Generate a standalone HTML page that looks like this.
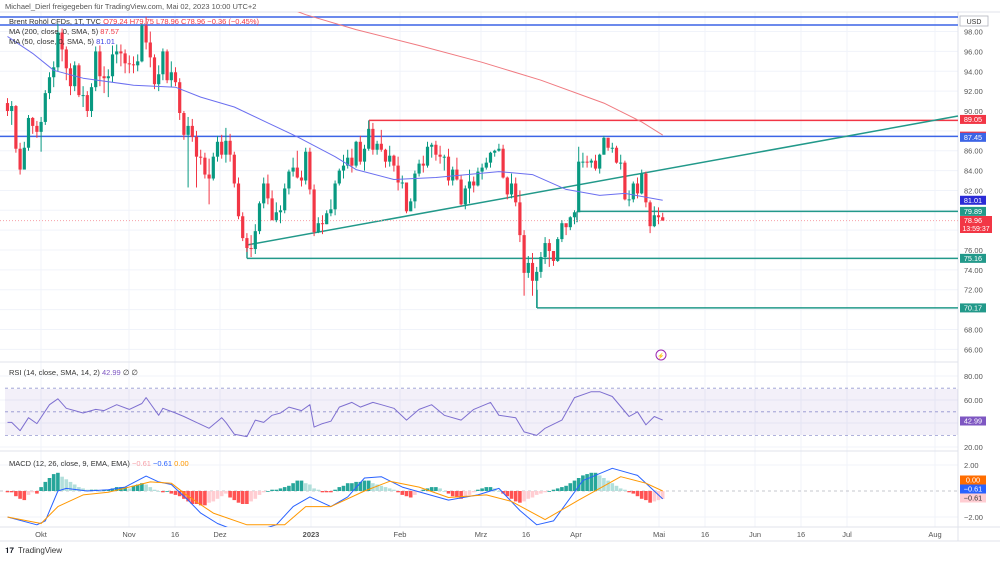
<!DOCTYPE html>
<html><head><meta charset="utf-8"><style>
body{margin:0;background:#fff;width:1000px;height:560px;overflow:hidden;font-family:"Liberation Sans",sans-serif}
svg text{font-family:"Liberation Sans",sans-serif}
</style></head><body>
<svg id="c" width="1000" height="560" viewBox="0 0 1000 560" xmlns="http://www.w3.org/2000/svg">
<g id="grid"></g>
<rect x="5" y="389" width="953" height="46" fill="#7e57c2" fill-opacity="0.09"/>
<g id="levels"></g>
<g id="candles"></g>
<g id="ind"></g>
<g id="axis"></g>
</svg>
<script>
const closes=[90.0,90.5,86.2,84.1,86.3,89.3,88.5,87.9,
88.9,91.8,93.4,94.4,97.9,96.2,94.3,92.5,94.6,91.6,91.6,90.0,92.4,96.0,93.5,93.3,93.5,95.7,96.0,95.8,94.8,
94.7,94.6,95.0,98.6,96.9,95.4,92.7,93.7,96.0,93.1,93.9,92.9,89.8,87.6,88.5,87.4,85.4,85.3,83.6,83.2,85.4,86.9,
85.6,87.0,85.6,82.7,79.4,77.2,76.2,76.1,77.9,80.7,82.7,81.2,79.0,79.8,80.0,82.2,83.9,84.3,83.3,83.0,85.9,
82.1,77.8,78.7,78.6,79.7,80.1,82.7,84.0,84.5,85.3,84.5,86.9,84.9,86.2,88.2,86.1,86.7,86.1,84.9,85.5,84.5,
82.8,82.8,79.9,80.9,83.7,84.7,84.5,86.4,86.6,85.6,85.4,85.4,83.0,84.1,83.1,80.6,82.2,82.9,82.5,83.9,
84.3,84.8,85.8,86.0,86.2,83.3,81.6,82.7,80.8,77.5,73.7,74.7,72.9,73.8,75.3,76.7,75.9,74.9,77.1,78.7,78.3,79.3,79.8,
84.9,84.9,84.8,85.0,84.2,85.6,87.3,86.3,86.3,84.8,84.8,81.1,81.1,82.7,81.7,83.7,80.8,78.4,79.5,
79.3,78.96];
const highs=[91.3,91.0,90.6,86.8,86.9,89.6,89.4,89.0,
89.4,92.1,93.9,95.0,98.8,98.3,96.5,94.8,95.0,94.8,92.5,92.0,92.8,96.5,96.6,94.5,94.2,96.6,96.7,96.7,96.2,
95.6,95.5,95.7,98.8,99.5,98.0,95.7,94.6,96.3,96.2,95.0,94.4,93.3,90.0,89.4,89.2,88.0,86.1,85.8,85.2,85.8,87.5,
87.6,88.3,87.7,85.9,83.3,79.8,77.7,77.5,78.6,80.9,83.3,83.6,82.0,80.8,80.5,82.7,84.1,85.3,86.0,84.0,86.3,
86.3,82.6,79.3,79.5,80.0,81.1,83.0,84.2,85.6,86.1,86.2,87.0,87.5,86.6,89.05,88.8,87.0,88.1,86.2,86.5,85.6,
85.4,83.5,82.8,81.2,84.0,85.1,85.5,86.9,86.8,87.0,86.5,85.6,86.2,84.4,85.3,83.5,82.5,84.1,83.4,84.3,
84.7,85.3,85.9,86.1,86.7,86.6,83.4,83.7,83.3,82.0,78.0,75.4,75.7,74.3,75.8,77.3,77.1,75.8,77.3,79.0,78.6,79.4,80.0,
86.4,85.8,85.5,85.2,85.6,85.7,87.5,87.3,86.8,86.5,85.6,85.0,82.0,82.9,83.3,84.1,83.9,81.0,80.4,
80.3,79.75];
const lows=[89.5,88.6,85.8,83.6,84.2,86.0,87.7,87.3,
85.9,88.6,91.2,92.4,94.0,95.0,93.1,91.6,92.0,91.4,90.4,89.4,89.4,92.0,92.5,91.8,91.4,92.9,94.8,94.5,93.8,
93.8,93.8,94.0,94.9,96.2,94.4,92.2,92.0,93.1,92.8,92.4,92.5,89.1,87.1,82.3,86.9,82.3,84.6,83.2,80.6,83.0,84.9,
85.2,84.8,84.9,82.3,79.1,76.9,75.8,75.3,75.6,77.6,80.2,80.6,79.0,78.8,78.7,79.7,81.6,83.4,83.2,82.4,82.6,
81.6,77.4,77.7,77.6,78.6,79.4,79.5,82.5,83.2,84.2,83.8,84.3,84.6,84.0,86.0,85.6,85.6,85.9,84.3,84.4,83.9,
82.0,82.2,79.7,79.9,80.2,83.4,83.8,84.3,85.3,85.0,84.7,84.0,82.5,82.5,83.0,80.5,80.1,80.7,81.8,82.4,
83.1,84.1,84.3,85.4,85.9,83.2,81.1,81.2,80.4,76.8,71.4,73.2,71.4,70.17,73.2,74.6,74.3,74.4,74.8,76.8,77.5,78.0,78.6,
84.0,84.3,84.3,84.3,84.0,83.7,85.6,86.0,85.8,84.7,84.1,81.0,80.4,80.8,81.2,81.6,80.3,77.7,78.3,
78.6,78.96];
const firstOpen=90.8;
const ma50Idx=[0,6,11,18,30,40,46,54,62,69,78,83,92,102,117,125,133,141,147,156];
const ma50Vals=[97.5,95.8,94.1,93.3,92.6,92.4,91.4,90.4,88.8,87.4,85.4,84.1,83.1,83.3,83.9,83.6,82.1,81.5,81.7,81.01];
const ma200Idx=[66,71,83,98,113,127,142,151,156];
const ma200Vals=[100.5,99.7,98.2,96.6,94.9,93.1,90.8,88.9,87.57];
const rsiIdx=[0,1,3,5,7,10,12,14,16,18,21,23,26,29,32,33,34,36,37,40,42,45,48,51,52,54,57,59,61,63,65,67,70,72,73,75,77,79,82,84,87,89,92,95,98,101,104,108,111,115,117,121,123,126,128,132,135,139,141,144,148,150,152,154,156];
const rsiVals=[41,41,34,45,40,56,61,53,51,49,52,51,56,52,57,62,57,47,53,49,46,41,36,45,41,31,29,43,41,47,49,54,51,56,37,40,42,54,58,54,58,56,53,43,52,56,47,43,52,58,47,45,33,30,36,43,62,67,67,63,46,50,39,46,42.99];
const hist=[-0.1,-0.1,-0.4,-0.6,-0.7,-0.3,-0.1,-0.2,0.3,0.7,1.0,1.3,1.4,1.1,0.9,0.7,0.5,0.3,0.2,0.1,0.1,0.1,0.0,0.1,0.1,0.2,0.3,0.3,0.3,0.2,0.4,0.5,0.6,0.5,0.3,0.1,0.0,-0.1,0.0,-0.2,-0.3,-0.4,-0.6,-0.8,-1.0,-1.0,-1.1,-1.1,-0.9,-0.8,-0.6,-0.4,-0.2,-0.5,-0.7,-0.9,-1.0,-1.0,-0.8,-0.6,-0.3,-0.1,0.0,0.1,0.1,0.2,0.3,0.4,0.6,0.8,0.8,0.6,0.5,0.2,0.1,-0.1,-0.1,-0.1,0.1,0.3,0.4,0.6,0.6,0.7,0.7,0.8,0.8,0.6,0.5,0.4,0.3,0.2,0.1,-0.1,-0.3,-0.4,-0.5,-0.3,-0.1,0.1,0.2,0.3,0.3,0.2,0.0,-0.2,-0.4,-0.5,-0.6,-0.5,-0.3,-0.1,0.1,0.2,0.3,0.3,0.2,0.0,-0.2,-0.4,-0.6,-0.8,-0.9,-0.8,-0.6,-0.5,-0.3,-0.2,-0.1,0.0,0.1,0.2,0.3,0.4,0.6,0.8,1.0,1.2,1.3,1.4,1.4,1.2,1.0,0.8,0.6,0.4,0.2,0.1,-0.1,-0.2,-0.4,-0.6,-0.7,-0.9,-0.8,-0.7,-0.61];
const macdIdx=[0,7,9,12,14,19,24,28,33,36,39,43,46,50,54,58,64,68,72,77,81,85,89,94,105,112,117,122,126,130,137,144,150,156];
const macdVals=[-2.0,-2.6,-2.3,0.0,0.2,0.0,0.1,0.3,1.15,0.7,0.5,-0.7,-1.7,-2.5,-3.0,-3.2,-2.6,-1.2,-0.45,-1.2,-0.45,1.0,1.1,0.3,-0.7,-0.3,0.2,-1.5,-2.6,-2.3,0.8,1.75,1.2,-0.61];
const sigIdx=[0,8,12,18,24,34,39,43,49,57,66,71,77,85,91,98,105,114,120,128,136,146,152,156];
const sigVals=[-2.0,-2.5,-1.2,-0.3,-0.1,0.7,0.6,-0.4,-1.7,-2.6,-2.6,-1.2,-1.2,0.0,0.75,0.3,-0.5,-0.3,-0.8,-2.2,-0.7,1.1,0.6,0.0];
const priceTicks=[98,96,94,92,90,86,84,82,76,74,72,68,66];
const timeLabels=["Okt","Nov","16","Dez","2023","Feb","Mrz","16","Apr","Mai","16","Jun","16","Jul","Aug"];
const timeX=[41,129,175,220,311,400,481,526,576,659,705,755,801,847,935];

const NS="http://www.w3.org/2000/svg";
const xOf=i=>7.5+i*4.2;
const yP=p=>111+(90-p)*9.93;
const yR=v=>400+(60-v)*1.18;
const yM=v=>491-v*13;
function el(tag,attrs,parent,txt){const e=document.createElementNS(NS,tag);for(const k in attrs)e.setAttribute(k,attrs[k]);if(txt!==undefined)e.textContent=txt;parent.appendChild(e);return e;}
const G=document.getElementById('grid'),L=document.getElementById('levels'),C=document.getElementById('candles'),I=document.getElementById('ind'),A=document.getElementById('axis');

// grid
for(const x of timeX){const g=el('line',{x1:x,x2:x,y1:12,y2:527,stroke:'#f0f3fa','stroke-width':1},G);

}
for(let p=66;p<=98;p+=2){const g=el('line',{x1:0,x2:958,y1:yP(p),y2:yP(p),stroke:'#f0f3fa'},G);

}
[376,400,423,447,465,517].forEach(y=>el('line',{x1:0,x2:958,y1:y,y2:y,stroke:'#f0f3fa'},G));
// pane borders
[[0,12,1000,12],[0,362,958,362],[0,451,958,451],[0,527,1000,527],[0,541,1000,541],[958,12,958,541]].forEach(a=>el('line',{x1:a[0],y1:a[1],x2:a[2],y2:a[3],stroke:'#e0e3eb'},G));
// RSI dashed lines
[70,50,30].forEach(v=>el('line',{x1:5,x2:958,y1:yR(v),y2:yR(v),stroke:'#9598d0','stroke-dasharray':'3 3','stroke-width':0.8},G));
el('line',{x1:0,x2:958,y1:491,y2:491,stroke:'#b2b5be','stroke-dasharray':'3 3','stroke-width':0.8},G);

// levels
function line(x1,y1,x2,y2,col,w,name,dash){const e=el('line',{x1,y1,x2,y2,stroke:col,'stroke-width':w},L);if(dash)e.setAttribute('stroke-dasharray',dash);return e;}
line(0,17,958,17,'#3c64e6',1.5,'resistance-line-top');
line(0,25,958,25,'#3c64e6',1.5,'resistance-line-top-2');
line(0,yP(87.45),958,yP(87.45),'#3c64e6',1.5,'resistance-line-87');
line(369,yP(89.05),958,yP(89.05),'#f23645',1.5,'high-line-89');
line(369,yP(89.05),369,yP(88.1),'#f23645',1.5,'high-tick');
line(577,yP(79.89),958,yP(79.89),'#22998a',1.5,'level-79-89');
line(577,yP(79.89),577,yP(78.8),'#22998a',1.5,'level-79-tick');
line(247,yP(75.16),958,yP(75.16),'#22998a',1.5,'level-75-16');
line(247,yP(76.4),247,yP(75.16),'#22998a',1.5,'level-75-tick');
line(537,yP(70.17),958,yP(70.17),'#22998a',1.5,'level-70-17');
line(537,yP(72),537,yP(70.17),'#22998a',1.5,'level-70-tick');
line(247,245,958,116,'#22998a',1.5,'trendline');
line(0,yP(78.96),958,yP(78.96),'#f7a1a8',1,'last-price-line','1 2');

// candles
for(let i=0;i<closes.length;i++){
 const o=i?closes[i-1]:firstOpen, c=closes[i];
 const up=c>=o, col=up?'#089981':'#f23645', x=xOf(i);
 const w=el('line',{x1:x,x2:x,y1:yP(highs[i]),y2:yP(lows[i]),stroke:col,'stroke-width':1},C);
 
 
 const yt=yP(Math.max(o,c)), h=Math.max(1,yP(Math.min(o,c))-yt);
 const b=el('rect',{x:x-1.6,y:yt,width:3.2,height:h,fill:col},C);
 
 
}
// MAs
function poly(idx,vals,yf,col,w,name,clip){const pts=idx.map((i,k)=>xOf(i).toFixed(1)+','+yf(vals[k]).toFixed(1)).join(' ');const e=el('polyline',{points:pts,fill:'none',stroke:col,'stroke-width':w,'stroke-linejoin':'round'},I);if(clip)e.setAttribute('clip-path',clip);return e;}
const defs=el('defs',{},document.getElementById('c'));
const cp1=el('clipPath',{id:'mainclip'},defs);el('rect',{x:0,y:12,width:958,height:350},cp1);
const cp2=el('clipPath',{id:'macdclip'},defs);el('rect',{x:0,y:452,width:958,height:75},cp2);
poly(ma200Idx,ma200Vals,yP,'#f07a80',1,'ma200-line','url(#mainclip)');
poly(ma50Idx,ma50Vals,yP,'#6b6ff0',1,'ma50-line','url(#mainclip)');
poly(rsiIdx,rsiVals,yR,'#7e6fd0',1,'rsi-line');
// histogram
for(let i=0;i<hist.length;i++){
 const v=hist[i],p=i?hist[i-1]:0;
 let col; if(v>=0) col=v>=p?'#26a69a':'#b2dfdb'; else col=v<=p?'#ff5252':'#ffcdd2';
 const y1=Math.min(yM(v),491), h=Math.max(0.8,Math.abs(yM(v)-491));
 const r=el('rect',{x:xOf(i)-1.8,y:y1,width:3.6,height:h,fill:col},I);
 
 
}
poly(macdIdx,macdVals,yM,'#2962ff',1,'macd-line','url(#macdclip)');
poly(sigIdx,sigVals,yM,'#ff9800',1,'signal-line','url(#macdclip)');

// texts
function t(x,y,s,col,size,name,anchor,weight){const e=el('text',{x,y,fill:col,'font-size':size,'text-anchor':anchor||'start','font-weight':weight||'normal'},A,s);return e;}
t(5,9,'Michael_Dierl freigegeben für TradingView.com, Mai 02, 2023 10:00 UTC+2','#555',7.5,'header-caption');
const lg=el('text',{x:9,y:24,'font-size':7.5,fill:'#333'},A);
lg.innerHTML='Brent Rohöl CFDs, 1T, TVC  <tspan fill="#f23645">O79.24  H79.75  L78.96  C78.96  −0.36 (−0.45%)</tspan>';
const l2=el('text',{x:9,y:34,'font-size':7.5,fill:'#333'},A);
l2.innerHTML='MA (200, close, 0, SMA, 5)  <tspan fill="#f23645">87.57</tspan>';
const l3=el('text',{x:9,y:44,'font-size':7.5,fill:'#333'},A);
l3.innerHTML='MA (50, close, 0, SMA, 5)  <tspan fill="#3c40e6">81.01</tspan>';
const l4=el('text',{x:9,y:375,'font-size':7.5,fill:'#333'},A);
l4.innerHTML='RSI (14, close, SMA, 14, 2)  <tspan fill="#7e57c2">42.99</tspan>  ∅  ∅';
const l5=el('text',{x:9,y:466,'font-size':7.5,fill:'#333'},A);
l5.innerHTML='MACD (12, 26, close, 9, EMA, EMA)  <tspan fill="#f7a1a8">−0.61</tspan>  <tspan fill="#2962ff">−0.61</tspan>  <tspan fill="#ff9800">0.00</tspan>';
for(const p of priceTicks) t(964,yP(p)+3,p.toFixed(2),'#555',7.5,'price-tick');
[[80,376],[60,400],[20,447]].forEach(a=>t(964,a[1]+3,a[0].toFixed(2),'#555',7.5,'rsi-tick'));
t(964,468,'2.00','#555',7.5,'macd-tick');t(964,520,'−2.00','#555',7.5,'macd-tick');
timeLabels.forEach((s,k)=>t(timeX[k],537,s,'#555',7.5,'time-label','middle',s==='2023'?'bold':'normal'));
function badge(y,s,bg,fg,name,h){const r=el('rect',{x:960,y:y-(h||9)/2,width:26,height:h||9,fill:bg},A);t(973,y+2.7,s,fg||'#fff',7.3,name+'-text','middle');}
badge(yP(89.05)-1,'89.05','#f23645',null,'badge-89-05');
badge(yP(87.57)+1,'87.57','#f23645',null,'badge-87-57');
badge(yP(87.45)+1,'87.45','#3c64e6',null,'badge-87-45');
badge(yP(81.01),'81.01','#2b2bd6',null,'badge-81-01');
badge(yP(79.89),'79.89','#22998a',null,'badge-79-89');
const rb=el('rect',{x:960,y:216,width:32,height:17,fill:'#f23645'},A);
t(973,223,'78.96','#fff',7.3,'last-price-text','middle');t(976,231,'13:59:37','#fff',7,'countdown-text','middle');
badge(yP(75.16),'75.16','#22998a',null,'badge-75-16');
badge(yP(70.17),'70.17','#22998a',null,'badge-70-17');
badge(421,'42.99','#7e57c2',null,'badge-rsi');
badge(480,'0.00','#ff6d00',null,'badge-signal');
badge(489,'−0.61','#2962ff',null,'badge-macd');
badge(498,'−0.61','#ffcdd2','#333','badge-hist');
const ub=el('rect',{x:960,y:16,width:28,height:10,fill:'#fff',stroke:'#b2b5be','stroke-width':0.8},A);
t(974,24,'USD','#333',7,'currency-label','middle');
const lc=el('circle',{cx:661,cy:355,r:5,fill:'#fff',stroke:'#9c27b0','stroke-width':1},A);
t(661,358,'⚡','#9c27b0',6,'events-glyph','middle');
t(5,553,'𝟏𝟕','#131722',8,'tv-logo-mark');
t(18,553,'TradingView','#333',8,'tv-logo-text');
</script>
</body></html>
